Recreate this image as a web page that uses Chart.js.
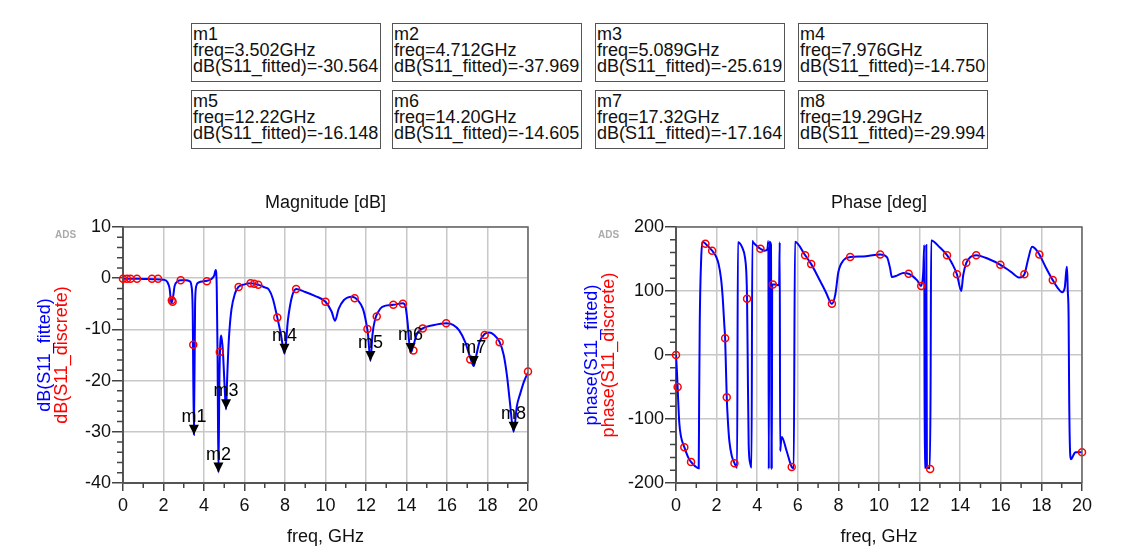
<!DOCTYPE html>
<html>
<head>
<meta charset="utf-8">
<script src="https://cdn.jsdelivr.net/npm/chart.js@4.4.1/dist/chart.umd.min.js"></script>
<style>
  body { margin: 0; background: #fff; width: 1134px; height: 558px; overflow: hidden; position: relative;
         font-family: "Liberation Sans", Arial, sans-serif; }
  .box { position: absolute; width: 190px; height: 59px; box-sizing: border-box; border: 1px solid #555;
         font-size: 18px; line-height: 16px; padding: 2px 0 0 1px; color: #111; white-space: pre; overflow: hidden; }
  #magWrap { position: absolute; left: 0; top: 185px; }
  #phaseWrap { position: absolute; left: 560px; top: 185px; }
</style>
</head>
<body>
<div id="boxes"></div>
<div id="magWrap"><canvas id="magChart" width="560" height="373"></canvas></div>
<div id="phaseWrap"><canvas id="phaseChart" width="574" height="373"></canvas></div>
<script>
// --- data ---
const freqTicks = [0, 2, 4, 6, 8, 10, 12, 14, 16, 18, 20];
const magTicks = [10, 0, -10, -20, -30, -40];
const phaseTicks = [200, 100, 0, -100, -200];

const magFreq = [0, 0.5, 1, 1.5, 2, 2.2, 2.3, 2.39, 2.46, 2.55, 2.7, 2.85, 3.1, 3.3, 3.38, 3.44, 3.502, 3.56, 3.62, 3.75,
  4.0, 4.14, 4.35, 4.5, 4.58, 4.63, 4.67, 4.712, 4.76, 4.8, 4.84, 4.88, 4.93, 4.98, 5.04, 5.089, 5.14, 5.2, 5.26, 5.36,
  5.52, 5.7, 6.0, 6.3, 6.7, 7.0, 7.2, 7.4, 7.62, 7.8, 7.976, 8.15, 8.35, 8.55, 9.0, 9.5, 10.0, 10.3, 10.47, 10.65,
  10.9, 11.3, 11.6, 11.85, 12.0, 12.1, 12.22, 12.32, 12.45, 12.6, 12.8, 13.35, 13.82, 13.95, 14.05, 14.2, 14.35, 14.5,
  14.8, 15.3, 15.96, 16.3, 16.6, 16.9, 17.15, 17.32, 17.45, 17.6, 17.86, 18.09, 18.3, 18.6, 18.8, 18.96, 19.1, 19.29,
  19.45, 19.62, 19.8, 20];
const magFitted = [-0.1, -0.1, -0.15, -0.2, -0.3, -0.8, -2, -4.9, -4, -1.5, -0.6, -0.4, -0.4, -0.6, -1.5, -6, -30.564, -5, -1.5, -0.8,
  -0.6, -0.5, -0.2, 0.5, 1.6, -2, -15, -37.969, -20, -13, -11.2, -12, -14, -18, -23, -25.619, -20, -14, -10, -6,
  -3.1, -1.7, -1.2, -1.0, -1.3, -1.8, -2.2, -4, -7.7, -11, -14.75, -8, -3.5, -2.1, -2.7, -3.5, -4.6, -6.5, -8.3, -6,
  -4.3, -3.6, -4.3, -6, -8.5, -11, -16.148, -11, -8, -6.6, -5.6, -5.2, -4.9, -5.5, -8.5, -14.605, -13, -11,
  -9.8, -9.2, -8.8, -9.1, -10.2, -12.5, -15.5, -17.164, -15, -12.5, -10.9, -10.6, -11, -12.5, -15, -19, -24, -29.994,
  -25, -22.5, -20.2, -18.4];

const magDiscFreq = [0, 0.2, 0.37, 0.69, 1.43, 1.73, 2.41, 2.45, 2.85, 3.47, 4.14, 4.78, 5.71, 6.3, 6.48, 6.68, 7.62, 8.55,
  10.0, 11.44, 12.07, 12.53, 13.35, 13.82, 14.34, 14.8, 15.96, 17.15, 17.86, 18.6, 20];
const magDiscrete = [-0.1, -0.1, -0.1, -0.1, -0.1, -0.1, -4.3, -4.6, -0.4, -13.0, -0.6, -14.4, -1.7, -1.0, -1.1, -1.3, -7.7, -2.1,
  -4.6, -3.9, -9.9, -7.5, -5.2, -5.0, -14.1, -9.8, -8.8, -15.9, -11.1, -12.5, -18.2];

const phaseFreq = [0, 0.04, 0.08, 0.16, 0.25, 0.41, 0.6, 0.74, 0.95, 1.12, 1.14, 1.17, 1.24, 1.31, 1.45, 1.78, 1.97, 2.1,
  2.22, 2.3, 2.38, 2.42, 2.46, 2.5, 2.56, 2.63, 2.75, 2.88, 3.01, 3.05, 3.26, 3.4, 3.47, 3.5, 3.53, 3.58, 3.66, 3.72,
  3.76, 3.8, 4.0, 4.16, 4.36, 4.5, 4.55, 4.57, 4.6, 4.68, 4.7, 4.71, 4.72, 4.74, 4.77, 4.9, 5.08, 5.11, 5.13, 5.16,
  5.21, 5.45, 5.7, 5.8, 5.86, 6.36, 6.66, 7.0, 7.4, 7.68, 7.85, 8.0, 8.25, 8.58, 9.2, 10.06, 10.39, 10.55, 10.63, 10.88,
  11.2, 11.46, 11.87, 12.08, 12.18, 12.23, 12.25, 12.31, 12.33, 12.36, 12.5, 12.54, 12.57, 13.0, 13.35, 13.6, 13.84,
  14.05, 14.15, 14.3, 14.5, 14.79, 15.4, 15.98, 16.5, 16.93, 17.16, 17.35, 17.54, 17.7, 17.9, 18.2, 18.56, 18.8, 19.02,
  19.15, 19.22, 19.26, 19.3, 19.34, 19.37, 19.42, 19.46, 19.51, 19.6, 19.68, 20];
const phaseFitted = [0, -22, -50, -105, -128, -144, -160, -167, -174, -177, -70, 50, 150, 177, 174, 163, 154, 142,
  119, 90, 47, 26, -20, -66, -105, -135, -158, -169, -176, 176, 168, 152, 125, 88, 0, -140, -170, -176,
  178, 176, 170, 166, 163, 165, 178, -178, 177, 172, -178, -93, -178, 110, 110, 110, 109, 176, -150, -140,
  -128, -150, -175, -177, 177, 156, 142, 122, 97, 80, 95, 130, 148, 153, 154, 157, 153, 135, 122, 124,
  128, 127, 117, 108, 130, 172, -176, -176, 172, -176, -177, -60, 179, 168, 156, 143, 126,
  100, 125, 144, 153, 156, 150, 141, 130, 121, 126, 150, 169, 166, 157, 138, 117, 105, 98,
  105, 130, 138, 100, 60, -73, -156, -163, -161, -155, -152, -152];

const phaseDiscFreq = [0, 0.08, 0.41, 0.74, 1.45, 1.78, 2.42, 2.5, 2.88, 3.5, 4.16, 4.77, 5.7, 6.36, 6.66, 7.68, 8.58,
  10.06, 11.46, 12.08, 12.52, 13.35, 13.84, 14.3, 14.79, 15.98, 17.16, 17.9, 18.56, 20];
const phaseDiscrete = [0, -50, -144, -167, 174, 163, 26, -66, -169, 88, 166, 110, -175, 156, 142, 80, 153,
  157, 127, 108, -178, 156, 126, 144, 156, 141, 126, 157, 117, -152];

const markerNames = ["m1", "m2", "m3", "m4", "m5", "m6", "m7", "m8"];
const markerFreq = [3.502, 4.712, 5.089, 7.976, 12.22, 14.20, 17.32, 19.29];
const markerDb = [-30.564, -37.969, -25.619, -14.750, -16.148, -14.605, -17.164, -29.994];

// --- marker readout boxes ---
const boxLeft = [191, 392, 595, 798];
const boxTop = [23, 90];
const boxes = document.getElementById("boxes");
markerNames.forEach((name, i) => {
  const d = document.createElement("div");
  d.className = "box";
  d.style.left = boxLeft[i % 4] + "px";
  d.style.top = boxTop[Math.floor(i / 4)] + "px";
  d.textContent = name + "\nfreq=" + markerFreq[i].toPrecision(4) + "GHz\ndB(S11_fitted)=" + markerDb[i].toFixed(3);
  boxes.appendChild(d);
});

const FONT = '"Liberation Sans", Arial, sans-serif';
const pts = (xs, ys) => xs.map((x, i) => ({ x: x, y: ys[i] }));

const deco = {
  id: "deco",
  afterDatasetsDraw(chart, args, opts) {
    const { ctx, chartArea: a, scales: { x, y } } = chart;
    ctx.save();
    // top / right frame
    ctx.strokeStyle = "#666";
    ctx.lineWidth = 1.5;
    ctx.beginPath();
    ctx.moveTo(a.left, a.top);
    ctx.lineTo(a.right, a.top);
    ctx.lineTo(a.right, a.bottom);
    ctx.stroke();
    // minor ticks
    ctx.strokeStyle = "#444";
    ctx.beginPath();
    x.ticks.forEach(t => {
      if (!freqTicks.includes(t.value)) {
        const px = x.getPixelForValue(t.value);
        ctx.moveTo(px, a.bottom); ctx.lineTo(px, a.bottom + 5);
      }
    });
    y.ticks.forEach(t => {
      if (!opts.yMajor.includes(t.value)) {
        const py = y.getPixelForValue(t.value);
        ctx.moveTo(a.left, py); ctx.lineTo(a.left - 6, py);
      }
    });
    ctx.stroke();

    // markers
    if (opts.markers) {
      ctx.fillStyle = "#000";
      ctx.font = "18px " + FONT;
      ctx.textAlign = "center";
      ctx.textBaseline = "alphabetic";
      markerNames.forEach((name, i) => {
        const px = x.getPixelForValue(markerFreq[i]);
        const py = y.getPixelForValue(markerDb[i]);
        ctx.beginPath();
        ctx.moveTo(px, py);
        ctx.lineTo(px - 5, py - 10);
        ctx.lineTo(px + 5, py - 10);
        ctx.closePath();
        ctx.fill();
        ctx.fillText(name, px, py - 13);
      });
    }

    // titles
    const cx = (a.left + a.right) / 2;
    ctx.fillStyle = "#111";
    ctx.font = "18px " + FONT;
    ctx.textAlign = "center";
    ctx.textBaseline = "alphabetic";
    ctx.fillText(opts.title, cx, 23);
    ctx.fillText("freq, GHz", cx, 357);

    ctx.font = "bold 10px " + FONT;
    ctx.fillStyle = "#aaa";
    ctx.textAlign = "left";
    ctx.fillText("ADS", opts.adsX, 53);

    const cy = (a.top + a.bottom) / 2;
    ctx.font = "18px " + FONT;
    ctx.textAlign = "center";
    ctx.textBaseline = "middle";
    [["#0000ff", opts.yTitles[0], opts.yTitleX[0]], ["#ff0000", opts.yTitles[1], opts.yTitleX[1]]].forEach(([c, t, tx]) => {
      ctx.save();
      ctx.translate(tx, cy);
      ctx.rotate(-Math.PI / 2);
      ctx.fillStyle = c;
      ctx.fillText(t, 0, 0);
      ctx.restore();
    });
    ctx.restore();
  }
};

function makeChart(id, cfg) {
  const yMajor = cfg.yMajor;
  return new Chart(document.getElementById(id), {
    type: "scatter",
    data: {
      datasets: [
        {
          data: cfg.discrete,
          showLine: false,
          clip: false,
          pointStyle: "circle",
          pointRadius: 3.5,
          pointBorderWidth: 1.5,
          pointBorderColor: "#ff0000",
          pointBackgroundColor: "rgba(0,0,0,0)",
        },
        {
          data: cfg.fitted,
          showLine: true,
          borderColor: "#0000ff",
          borderWidth: 2,
          pointRadius: 0,
          cubicInterpolationMode: "monotone",
        },
      ],
    },
    options: {
      responsive: false,
      animation: false,
      devicePixelRatio: 1,
      layout: { padding: { left: 0, right: cfg.padRight, top: 42, bottom: 0 } },
      plugins: {
        legend: { display: false },
        tooltip: { enabled: false },
        deco: { title: cfg.title, yTitles: cfg.yTitles, yTitleX: cfg.yTitleX, yMajor: yMajor, markers: cfg.markers, adsX: cfg.adsX },
      },
      scales: {
        x: {
          type: "linear",
          min: 0, max: 20,
          afterFit: s => { s.height = 75; },
          border: { color: "#555", width: 2 },
          grid: {
            color: c => (c.tick && freqTicks.includes(c.tick.value)) ? "#c8c8c8" : "rgba(0,0,0,0)",
            tickColor: c => (c.tick && freqTicks.includes(c.tick.value)) ? "#444" : "rgba(0,0,0,0)",
            lineWidth: 1.5,
            tickLength: 8,
          },
          ticks: {
            stepSize: 1, autoSkip: false, maxRotation: 0, padding: 4, color: "#111",
            font: { family: FONT, size: 18 },
            callback: v => freqTicks.includes(v) ? String(v) : "",
          },
        },
        y: {
          type: "linear",
          min: cfg.yMin, max: cfg.yMax,
          afterFit: s => { s.width = cfg.yWidth; },
          border: { color: "#555", width: 2 },
          grid: {
            color: c => (c.tick && yMajor.includes(c.tick.value)) ? "#c8c8c8" : "rgba(0,0,0,0)",
            tickColor: c => (c.tick && yMajor.includes(c.tick.value)) ? "#444" : "rgba(0,0,0,0)",
            lineWidth: 1.5,
            tickLength: 11,
          },
          ticks: {
            stepSize: cfg.yStep, autoSkip: false, padding: 1, color: "#111",
            font: { family: FONT, size: 18 },
            callback: v => yMajor.includes(v) ? String(v) : "",
          },
        },
      },
    },
    plugins: [deco],
  });
}

makeChart("magChart", {
  discrete: pts(magDiscFreq, magDiscrete),
  fitted: pts(magFreq, magFitted),
  yMin: -40, yMax: 10, yStep: 2, yMajor: magTicks,
  yWidth: 123, padRight: 32,
  title: "Magnitude [dB]",
  yTitles: ["dB(S11_fitted)", "dB(S11_discrete)"],
  yTitleX: [45, 62],
  adsX: 55,
  markers: true,
});

makeChart("phaseChart", {
  discrete: pts(phaseDiscFreq, phaseDiscrete),
  fitted: pts(phaseFreq, phaseFitted),
  yMin: -200, yMax: 200, yStep: 20, yMajor: phaseTicks,
  yWidth: 116, padRight: 52,
  title: "Phase [deg]",
  yTitles: ["phase(S11_fitted)", "phase(S11_discrete)"],
  yTitleX: [32, 49],
  adsX: 38,
  markers: false,
});
</script>
</body>
</html>
